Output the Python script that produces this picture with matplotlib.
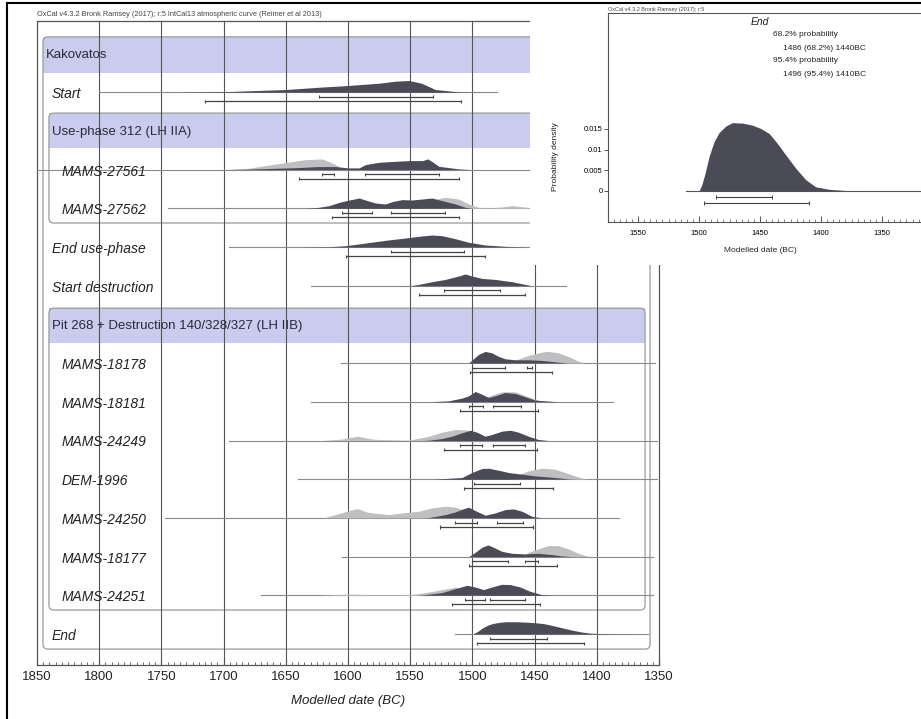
import numpy as np
import matplotlib.pyplot as plt
from matplotlib.patches import Rectangle, FancyBboxPatch
from matplotlib.lines import Line2D
from matplotlib.ticker import MultipleLocator

plt.rcParams['font.family'] = ['Liberation Sans', 'DejaVu Sans']

W, H = 921, 719

# ---- data ----------------------------------------------------------------
# heights are relative probability on a 0-12 scale (12 = peak of the row)
H_MAX = 12.0

year_ticks = [1850, 1800, 1750, 1700, 1650, 1600, 1550, 1500, 1450, 1400, 1350]

group_names = ["Kakovatos", "Use-phase 312 (LH IIA)", "Pit 268 + Destruction 140/328/327 (LH IIB)"]
group_rows = [0, 2, 7]

start_post = [(1740, 0), (1695, 0.7), (1650, 2.7), (1623, 5), (1600, 6.7), (1575, 9), (1562, 11),
              (1551, 11.7), (1541, 9), (1535, 5.7), (1530, 2.7), (1511, 0.3), (1495, 0)]

m27561_prior = [(1700, 0), (1682, 1), (1661, 5), (1634, 10), (1621, 10.7), (1613, 6.7), (1605, 1.7),
                (1595, 0.5), (1585, 0)]
m27561_post = [(1700, 0), (1680, 0.5), (1640, 2), (1625, 3), (1610, 3), (1600, 1.7), (1591, 1.7),
               (1586, 5), (1575, 7.3), (1562, 8.3), (1551, 9), (1540, 9), (1536, 10.7), (1532, 7.7),
               (1527, 3.3), (1511, 0.7), (1500, 0)]

m27562_prior = [(1540, 8), (1530, 9), (1521.7, 11), (1511, 9.3), (1503, 4.3), (1495, 1), (1485, 0.5),
                (1475, 1.5), (1468, 2.7), (1460, 1.5), (1450, 0.3), (1440, 0)]
m27562_post = [(1635, 0), (1626, 0.5), (1615, 2.7), (1607, 6), (1599, 8.3), (1591, 10.3), (1586, 8.3),
               (1578, 5.3), (1570, 4.3), (1564.5, 6.7), (1556.5, 8.7), (1548.5, 8.3), (1540.5, 9.3),
               (1532.4, 10.3), (1524.4, 7.7), (1513.7, 4.3), (1505.7, 1), (1500, 0)]

enduse_post = [(1640, 0), (1615, 0.3), (1601.8, 1.3), (1585.8, 4), (1569.8, 6.7), (1553.8, 9),
               (1543.1, 10.7), (1532.4, 12), (1524.4, 11.3), (1513.7, 8.3), (1503, 4.7),
               (1489.7, 2), (1473.6, 0.7), (1457.6, 0)]

startdes_post = [(1560, 0), (1548.5, 0.3), (1543.1, 1.3), (1532.4, 4), (1521.7, 6.3), (1511, 9.7),
                 (1505.7, 11.7), (1500.4, 9.7), (1492.4, 7.3), (1481.7, 6.3), (1468.3, 4),
                 (1457.6, 1.3), (1452.3, 0)]

m18178_prior = [(1470, 0), (1466, 2.7), (1455, 7.7), (1444.3, 11), (1439, 11.7), (1431, 10.3),
                (1423, 6.7), (1415, 2), (1409.5, 0)]
m18178_post = [(1503, 0), (1500.4, 3), (1495, 8.7), (1489.7, 11.7), (1484.4, 10.3), (1479, 6.7),
               (1473.6, 4.3), (1465.6, 3.3), (1455, 3.3), (1444.3, 2.7), (1433.6, 1.3), (1423, 0)]

m18181_prior = [(1495, 0), (1490, 4.3), (1476.4, 10), (1465.6, 10), (1455, 5), (1444.3, 0.3), (1440, 0)]
m18181_post = [(1535, 0), (1529.7, 0.3), (1519, 1), (1508.4, 3.7), (1503, 6), (1497.7, 10.3),
               (1493.7, 8.3), (1487, 4.3), (1481.7, 6), (1473.6, 9.3), (1465.6, 8.3), (1457.6, 5),
               (1449.6, 1.7), (1431, 0)]

m24249_prior = [(1620, 0), (1604.5, 1.5), (1592.5, 4.3), (1580.5, 1.5), (1575.2, 1), (1551.1, 0.3),
                (1535.1, 4.3), (1524.4, 8.3), (1513.7, 11), (1505, 10.5), (1500, 8), (1490, 2), (1480, 0)]
m24249_post = [(1540, 0), (1535.1, 0.3), (1524.4, 2), (1516.4, 4.3), (1508.4, 7.7), (1501.7, 10.3),
               (1496.4, 8.3), (1489.7, 4.3), (1484.4, 6), (1476.4, 9.3), (1469.6, 10.3), (1463, 8.3),
               (1455, 4.3), (1447, 1), (1439, 0)]

dem1996_prior = [(1470, 0), (1466, 3.3), (1455, 8.3), (1444.3, 11), (1433.6, 10), (1425.6, 6.7),
                 (1417.5, 3.3), (1409.5, 0.3), (1400, 0)]
dem1996_post = [(1530, 0), (1527, 0.3), (1508.4, 1.7), (1500.4, 6.7), (1492.4, 10.7), (1487, 11),
                (1479, 9), (1471, 6.7), (1460.3, 5), (1449.6, 3.3), (1433.6, 1.7), (1423, 0.3), (1415, 0)]

m24250_prior = [(1620, 0), (1610, 3.3), (1600, 7), (1592.5, 9.3), (1585, 6), (1580.5, 5), (1567, 3.3),
                (1556.5, 5), (1543.1, 6.7), (1532.4, 10), (1521.7, 11.7), (1513.7, 10.7), (1505, 7),
                (1495, 2), (1485, 0)]
m24250_post = [(1540, 0), (1535.1, 0.3), (1521.7, 3.3), (1513.7, 6), (1507, 9.3), (1503, 10.7),
               (1497.7, 7.3), (1489.7, 2.7), (1481.7, 5), (1473.6, 8.3), (1467, 9), (1460.3, 6.7),
               (1452.3, 1.7), (1444.3, 0)]

m18177_prior = [(1460, 0), (1455, 4.3), (1447, 7.7), (1439, 11), (1430.9, 11), (1422.9, 7.7),
                (1414.9, 3.3), (1406.9, 0.3), (1400, 0)]
m18177_post = [(1503, 0), (1497.7, 4.3), (1492.4, 9.3), (1487.5, 11.7), (1483, 9.3), (1476.4, 5.3),
               (1468.3, 3.3), (1457.6, 2.7), (1447, 3.3), (1436.3, 2), (1428.3, 0.7), (1420, 0)]

m24251_prior = [(1625, 0), (1600, 1.2), (1580, 0.6), (1548.5, 0.7), (1535.1, 3.3), (1524.4, 5.7),
                (1513.7, 8), (1505, 7), (1500, 3), (1490, 0)]
m24251_post = [(1545, 0), (1540.5, 0.3), (1524.4, 2.7), (1513.7, 6.7), (1504.4, 10), (1497.7, 8.3),
               (1491, 5.7), (1484.4, 8.3), (1476.4, 11), (1469.6, 10.7), (1461.6, 8.3), (1453.6, 4),
               (1444.3, 0.7), (1435, 0)]

# End boundary: probability density as in the enlarged panel
end_years = [1500, 1497.8, 1495, 1491.8, 1487.7, 1483.6, 1478, 1472.7, 1464.5, 1456.3, 1449.4,
             1442.6, 1435.8, 1428.9, 1420.7, 1412.5, 1404.4, 1393.4, 1379.7, 1360.7]
end_density = [0, 0.00145, 0.0043, 0.0083, 0.0119, 0.0141, 0.0157, 0.0165, 0.0164, 0.0159, 0.0151,
               0.0139, 0.0115, 0.0087, 0.0055, 0.0027, 0.0010, 0.0004, 0.0001, 0]
end_r68 = [(1486, 1440)]
end_r95 = [(1496, 1410)]

# rows: (row, label, indented, prior, posterior, 68.2% ranges, 95.4% ranges, extent of line)
items = [
    (1, "Start", False, None, start_post, [(1623, 1532)], [(1715, 1509)], (1800, 1480)),
    (3, "MAMS-27561", True, m27561_prior, m27561_post, [(1621, 1611), (1586, 1527)], [(1639, 1511)], (1850, 1390)),
    (4, "MAMS-27562", True, m27562_prior, m27562_post, [(1604.5, 1581), (1565.8, 1521.7)], [(1612.6, 1511)], (1745, 1400)),
    (5, "End use-phase", False, None, enduse_post, [(1565.8, 1507)], [(1601.8, 1489.7)], (1696, 1400)),
    (6, "Start destruction", False, None, startdes_post, [(1523, 1477.7)], [(1543, 1457.6)], (1630, 1425)),
    (8, "MAMS-18178", True, m18178_prior, m18178_post, [(1500.4, 1473.6), (1456, 1451.7)], [(1501.7, 1435.7)], (1606, 1353)),
    (9, "MAMS-18181", True, m18181_prior, m18181_post, [(1503, 1491.8), (1483.8, 1460.8)], [(1509.7, 1447)], (1630, 1387)),
    (10, "MAMS-24249", True, m24249_prior, m24249_post, [(1509.7, 1492.4), (1483.8, 1457.6)], [(1523, 1448.3)], (1696, 1352)),
    (11, "DEM-1996", True, dem1996_prior, dem1996_post, [(1499, 1461.6)], [(1507, 1435)], (1640, 1352)),
    (12, "MAMS-24250", True, m24250_prior, m24250_post, [(1513.7, 1496.4), (1480.4, 1459)], [(1525.7, 1451)], (1747, 1382)),
    (13, "MAMS-18177", True, m18177_prior, m18177_post, [(1500.4, 1471), (1457.6, 1447)], [(1502.5, 1432.2)], (1605, 1355)),
    (14, "MAMS-24251", True, m24251_prior, m24251_post, [(1505.7, 1489.7), (1485.6, 1457.6)], [(1516.4, 1445.6)], (1670, 1355)),
]

# ---- styling -------------------------------------------------------------
DARK = '#4b4b57'
LIGHT = '#bfbfc1'
BAND = '#cacced'
GRID = '#555555'
BOXC = '#9a9a9a'
TXT = '#222222'
PEAK = 0.31          # row units for a full-height distribution
ROW_PX = 38.7

fig = plt.figure(figsize=(W / 100, H / 100), dpi=100)
fig.patch.set_facecolor('white')


def fx(x):
    return x / W


def fy(y):
    return 1 - y / H


ax = fig.add_axes([fx(37), fy(665), (659 - 37) / W, (665 - 21) / H])
ax.set_xlim(1850, 1350)
ax.set_ylim((665 - 53.5) / ROW_PX, (21 - 53.5) / ROW_PX)
ax.set_yticks([])
ax.set_xticks(year_ticks)
ax.xaxis.set_minor_locator(MultipleLocator(5))
ax.tick_params(axis='x', which='major', direction='in', length=5, width=0.8, color=GRID,
               labelsize=9.5, pad=4, labelcolor=TXT)
ax.tick_params(axis='x', which='minor', direction='in', length=2.5, width=0.6, color=GRID)
ax.set_xlabel("Modelled date (BC)", fontsize=9.5, style='italic', color=TXT, labelpad=9)
for s in ax.spines.values():
    s.set_color(GRID)
    s.set_linewidth(0.9)

# gridlines
for yr in year_ticks[1:-1]:
    ax.axvline(yr, color=GRID, lw=0.8, zorder=2.5)

asp = (622 / 500) / ROW_PX

# outer model box and phase boxes
outer = FancyBboxPatch((1357.2, -0.43), 1845.2 - 1357.2, 15.39 + 0.43,
                       boxstyle="round,pad=0,rounding_size=4", mutation_aspect=asp,
                       fc='none', ec=BOXC, lw=0.9, zorder=2)
ax.add_patch(outer)
ax.add_patch(Rectangle((1357.2, -0.43), 1845.2 - 1357.2, 0.93, fc=BAND, ec='none', zorder=1))
for top, bottom in [(1.54, 4.38), (6.58, 14.38)]:
    ax.add_patch(FancyBboxPatch((1361.2, top), 1840.4 - 1361.2, bottom - top,
                                boxstyle="round,pad=0,rounding_size=4", mutation_aspect=asp,
                                fc='none', ec=BOXC, lw=0.9, zorder=2))
    ax.add_patch(Rectangle((1361.2, top), 1840.4 - 1361.2, 0.91, fc=BAND, ec='none', zorder=1))

for name, row, xl in zip(group_names, group_rows, [1842.8, 1838, 1838]):
    ax.text(xl, row + 0.03, name, fontsize=9.5, color='#2a2a3a', va='center', ha='left', zorder=6)


def draw_ranges(y, ranges, off, cap):
    for a, b in ranges:
        ax.plot([a, b], [y + off, y + off], color='#444444', lw=0.9, zorder=6,
                solid_capstyle='butt')
        ax.vlines([a, b], y + off - cap, y + off + cap, color='#444444', lw=0.8, zorder=6)


def draw_item(row, label, indent, prior, post, r68, r95, span):
    ax.plot(span, [row, row], color='#8a8a8a', lw=0.8, zorder=3)
    for dist, col, z in [(prior, LIGHT, 4), (post, DARK, 5)]:
        if dist is None:
            continue
        yrs = [p[0] for p in dist]
        hh = np.array([p[1] for p in dist]) / H_MAX * PEAK
        ax.fill_between(yrs, row, row - hh, color=col, lw=0, zorder=z)
    draw_ranges(row, r68, 0.12, 0.04)
    draw_ranges(row, r95, 0.235, 0.04)
    ax.text(1830 if indent else 1838, row + 0.05, label, fontsize=10, style='italic',
            color=TXT, va='center', ha='left', zorder=6)


for it in items:
    draw_item(*it)

# End boundary in the main plot
end_post = [(y, d / max(end_density) * 12.3) for y, d in zip(end_years, end_density)]
draw_item(15, "End", False, None, end_post, end_r68, end_r95, (1514, 1359))

fig.text(fx(37), fy(15), "OxCal v4.3.2 Bronk Ramsey (2017); r:5 IntCal13 atmospheric curve (Reimer et al 2013)",
         fontsize=5.3, color='#444444', va='center', ha='left')

# ---- enlarged panel for End ---------------------------------------------
fig.patches.append(Rectangle((fx(530), fy(265)), (W - 530) / W, (265 - 5) / H,
                             transform=fig.transFigure, fc='white', ec='none', zorder=1))

ax2 = fig.add_axes([fx(608), fy(222), (935 - 608) / W, (222 - 13) / H], zorder=3)
ax2.set_xlim(1574.6, 1306.6)
ax2.set_ylim(-0.0075, 0.043)
ax2.fill_between(end_years, 0, end_density, color=DARK, lw=0, zorder=3)
ax2.plot([1511, 1300], [0, 0], color='#555555', lw=0.8, zorder=2)
for (a, b), yv in [(end_r68[0], -0.00145), (end_r95[0], -0.0029)]:
    ax2.plot([a, b], [yv, yv], color='#444444', lw=0.8)
    ax2.vlines([a, b], yv - 0.0004, yv + 0.0004, color='#444444', lw=0.7)
ax2.set_xticks([1550, 1500, 1450, 1400, 1350])
ax2.xaxis.set_minor_locator(MultipleLocator(5))
ax2.set_yticks([0, 0.005, 0.01, 0.015])
ax2.set_yticklabels(["0", "0.005", "0.01", "0.015"])
ax2.tick_params(axis='x', which='major', direction='in', length=4, width=0.7, labelsize=5.5,
                color=GRID, pad=6)
ax2.tick_params(axis='x', which='minor', direction='in', length=2, width=0.5, color=GRID)
ax2.tick_params(axis='y', direction='out', length=3, width=0.7, labelsize=5.5, color=GRID, pad=1)
for s in ax2.spines.values():
    s.set_color(GRID)
    s.set_linewidth(0.8)

fig.text(fx(555), fy(157), "Probability density", rotation=90, fontsize=6, ha='center', va='center', color=TXT)
fig.text(fx(760), fy(250), "Modelled date (BC)", fontsize=6, ha='center', va='center', color=TXT)
fig.text(fx(608), fy(9.5), "OxCal v4.3.2 Bronk Ramsey (2017); r:5", fontsize=4, ha='left', va='center',
         color='#444444', zorder=4)
fig.text(fx(760), fy(22), "End", fontsize=7.5, style='italic', ha='center', va='center', color=TXT, zorder=4)
inset_lines = [("68.2% probability", 773, 35),
               (f"{end_r68[0][0]} (68.2%) {end_r68[0][1]}BC", 783, 48),
               ("95.4% probability", 773, 61),
               (f"{end_r95[0][0]} (95.4%) {end_r95[0][1]}BC", 783, 74)]
for s, x, y in inset_lines:
    fig.text(fx(x), fy(y), s, fontsize=6, ha='left', va='center', color=TXT, zorder=4)

# frame around the whole figure
fig.lines.append(Line2D([fx(7), fx(7)], [0, fy(3)], transform=fig.transFigure, color='black', lw=1.5, zorder=5))
fig.lines.append(Line2D([fx(7), 1], [fy(3), fy(3)], transform=fig.transFigure, color='black', lw=1.5, zorder=5))

fig.savefig("out.png", dpi=100)
